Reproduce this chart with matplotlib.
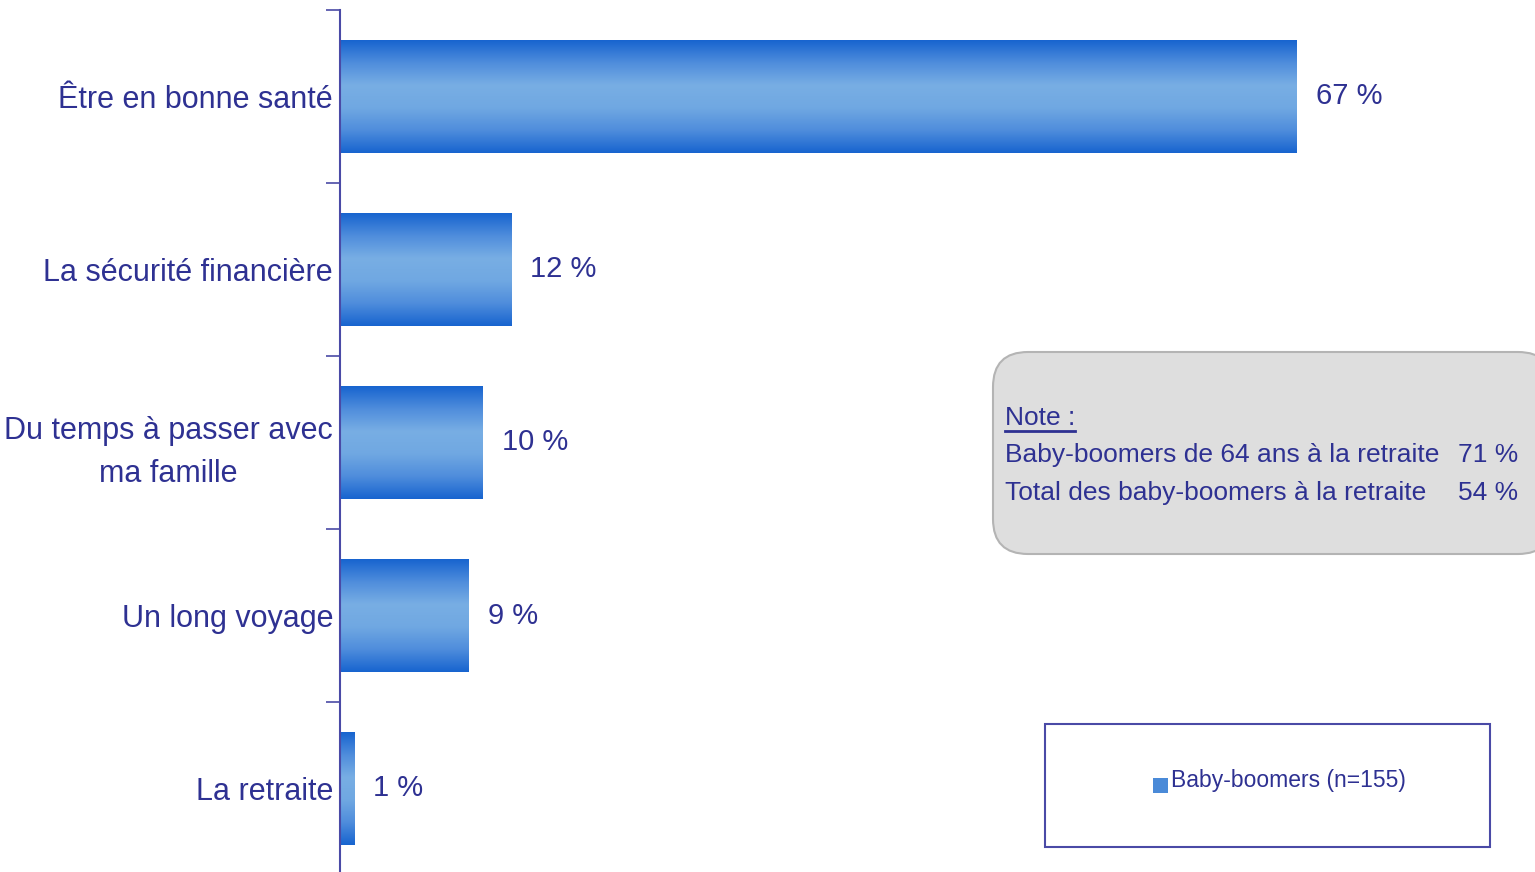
import matplotlib
matplotlib.use("Agg")
import matplotlib.pyplot as plt
import numpy as np
from matplotlib import font_manager
from matplotlib.colors import LinearSegmentedColormap
from matplotlib.patches import FancyBboxPatch, Rectangle
from matplotlib.transforms import IdentityTransform
from matplotlib.lines import Line2D

categories = ["Être en bonne santé", "La sécurité financière",
              "Du temps à passer avec\nma famille", "Un long voyage", "La retraite"]
values = [67, 12, 10, 9, 1]
value_labels = ["67 %", "12 %", "10 %", "9 %", "1 %"]
series_name = "Baby-boomers (n=155)"
note_title = "Note :"
note_rows = ["Baby-boomers de 64 ans à la retraite", "Total des baby-boomers à la retraite"]
note_values = ["71 %", "54 %"]

names = {f.name for f in font_manager.fontManager.ttflist}
FAM = ["Liberation Sans Narrow", "DejaVu Sans"] if "Liberation Sans Narrow" in names else ["Liberation Sans", "DejaVu Sans"]
plt.rcParams['font.family'] = FAM
TXT = "#2e3192"
AX = "#4a4aa6"

W, H = 1535, 872
PX = 14.28
fig = plt.figure(figsize=(W/100, H/100), dpi=100)
ax = fig.add_axes([340/W, 1-875/H, 1-340/W, (875-10)/H])
ax.set_xlim(0, (W-340)/PX)
n = len(categories)
ax.set_ylim(n-0.5, -0.5)

cmap = LinearSegmentedColormap.from_list("g", ["#1764cf", "#4f8ddc", "#78aee4", "#70a8e2", "#4f8ddc", "#1764cf"])
grad = np.linspace(0, 1, 256).reshape(-1, 1)
bh = 0.65
for i, v in enumerate(values):
    ax.imshow(grad, extent=[0, v, i+bh/2, i-bh/2], aspect='auto', cmap=cmap, zorder=2, interpolation='bicubic')
    ax.text(v + 19/PX, i, value_labels[i], va='center', ha='left', fontsize=21, color=TXT)

for s in ["top", "right", "bottom"]:
    ax.spines[s].set_visible(False)
ax.spines["left"].set_color(AX)
ax.spines["left"].set_linewidth(1.5)
ax.spines["left"].set_zorder(3)
ax.set_xticks([])
ax.set_yticks(range(n))
ax.set_yticklabels(categories, fontsize=22, color=TXT, multialignment='center', linespacing=1.55)
ax.tick_params(axis='y', length=0, pad=5)
ax.set_yticks(np.arange(-0.5, n, 1), minor=True)
ax.tick_params(axis='y', which='minor', length=10, width=1.2, color=AX, direction='out')

# note box
idt = IdentityTransform()
box = FancyBboxPatch((993, H-554), 560, 202, boxstyle="round,pad=0,rounding_size=35",
                     transform=idt, facecolor="#dedede", edgecolor="#b4b4b4", linewidth=1.5, figure=fig)
fig.patches.append(box)
t = fig.text(1005/W, 1-418/H, note_title, fontsize=19, color=TXT, va='center', ha='left')
for k, (r, v) in enumerate(zip(note_rows, note_values)):
    y = 1 - (455 + 38*k)/H
    fig.text(1005/W, y, r, fontsize=19, color=TXT, va='center', ha='left')
    fig.text(1518/W, y, v, fontsize=19, color=TXT, va='center', ha='right')
fig.canvas.draw()
bb = t.get_window_extent()
fig.lines.append(Line2D([bb.x0, bb.x1], [bb.y0 - 1, bb.y0 - 1], transform=idt, color=TXT, linewidth=2, figure=fig))

# legend box
leg = Rectangle((1045, H-847), 445, 123, transform=idt, facecolor="white", edgecolor=AX, linewidth=1.5, figure=fig)
fig.patches.append(leg)
fig.patches.append(Rectangle((1153, H-793), 15, 15, transform=idt, facecolor="#4a8ad8", edgecolor="none", figure=fig))
fig.text(1171/W, 1-780/H, series_name, fontsize=16.5, color=TXT, va='center', ha='left')

fig.savefig("out.png", dpi=100)
